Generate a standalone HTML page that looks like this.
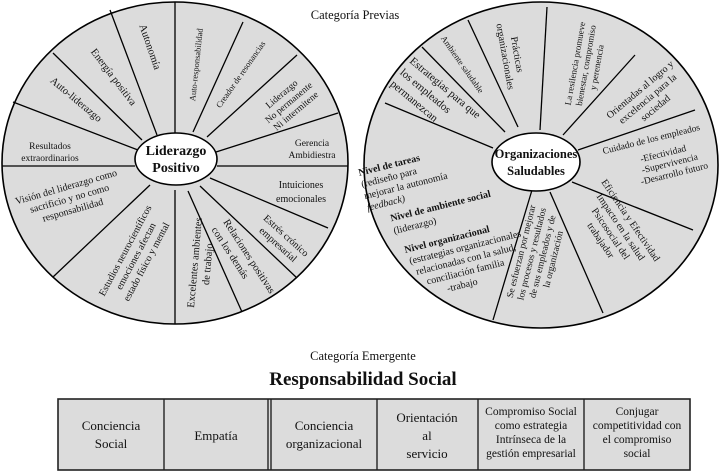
<!DOCTYPE html>
<html><head><meta charset="utf-8"><style>
html,body{margin:0;padding:0;background:#fff;}
svg{display:block;font-family:"Liberation Serif",serif;}
text{fill:#111;}
</style></head><body>
<svg width="727" height="476" viewBox="0 0 727 476" xmlns="http://www.w3.org/2000/svg">
<text x="355" y="19" font-size="12.5" text-anchor="middle">Categoría  Previas</text>
<!-- LEFT WHEEL -->
<ellipse cx="175" cy="163" rx="173" ry="161" fill="#dcdcdc" stroke="#000" stroke-width="1.6"/>
<g stroke="#000" stroke-width="1.3">
<line x1="175" y1="2" x2="175" y2="133"/>
<line x1="110" y1="10" x2="157" y2="135"/>
<line x1="53" y1="53" x2="142" y2="140"/>
<line x1="13" y1="102" x2="138" y2="150"/>
<line x1="2" y1="166" x2="135" y2="166"/>
<line x1="53" y1="277" x2="150" y2="185"/>
<line x1="175" y1="324" x2="175" y2="190"/>
<line x1="242" y1="312" x2="188" y2="191"/>
<line x1="297" y1="278" x2="200" y2="186"/>
<line x1="328" y1="228" x2="210" y2="178"/>
<line x1="217" y1="166" x2="348" y2="166"/>
<line x1="338" y1="113" x2="216" y2="152"/>
<line x1="297" y1="55" x2="207" y2="137"/>
<line x1="243" y1="22" x2="193" y2="132"/>
</g>
<ellipse cx="176" cy="159" rx="41" ry="26" fill="#fff" stroke="#000" stroke-width="1.6"/>
<text x="176" y="155" font-size="14" font-weight="bold" text-anchor="middle">Liderazgo</text>
<text x="176" y="172" font-size="14" font-weight="bold" text-anchor="middle">Positivo</text>
<g font-size="10.5" text-anchor="middle">
<text transform="translate(147,48) rotate(71)">Autonomía</text>
<text transform="translate(111,79) rotate(53)">Energía positiva</text>
<text transform="translate(74,102) rotate(40)">Auto-liderazgo</text>
<text x="50" y="149" font-size="9.5">Resultados</text>
<text x="50" y="161" font-size="9.5">extraordinarios</text>
<text transform="translate(199,65) rotate(-84)" font-size="8.5">Auto-responsabilidad</text>
<text transform="translate(243,76) rotate(-55)" font-size="8.5">Creador de resonancias</text>
<text transform="translate(290,104) rotate(-40)" font-size="9.5"><tspan x="0" dy="-10">Liderazgo</tspan><tspan x="0" dy="11">No permanente</tspan><tspan x="0" dy="11">Ni intermitene</tspan></text>
<text x="312" y="146" font-size="9.5">Gerencia</text>
<text x="312" y="158" font-size="9.5">Ambidiestra</text>
<text x="301" y="188" font-size="10">Intuiciones</text>
<text x="301" y="202" font-size="10">emocionales</text>
<text transform="translate(284,238) rotate(42)" font-size="10"><tspan x="0" dy="0">Estrés crónico</tspan><tspan x="0" dy="12">empresarial</tspan></text>
<text transform="translate(223,222) rotate(57)" font-size="10.5" text-anchor="start"><tspan x="0" dy="0">Relaciones positivas</tspan><tspan x="0" dy="14">con los demás</tspan></text>
<text transform="translate(194,308) rotate(-85)" font-size="10.5" text-anchor="start"><tspan x="0" dy="0">Excelentes ambientes</tspan><tspan x="24" dy="13">de trabajo</tspan></text>
<text transform="translate(128,252) rotate(-62)" font-size="10"><tspan x="0" dy="0">Estudios neurocientíficos</tspan><tspan x="0" dy="12">emociones afectan</tspan><tspan x="0" dy="12">estado físico y mental</tspan></text>
<text transform="translate(67,190) rotate(-16)" font-size="10"><tspan x="0" dy="0">Visión del liderazgo como</tspan><tspan x="0" dy="12">sacrificio y no como</tspan><tspan x="0" dy="12">responsabilidad</tspan></text>
</g>
<!-- RIGHT WHEEL -->
<ellipse cx="541" cy="165" rx="177" ry="163" fill="#dcdcdc" stroke="#000" stroke-width="1.6"/>
<g stroke="#000" stroke-width="1.3">
<line x1="468" y1="20" x2="518" y2="127"/>
<line x1="547" y1="7" x2="540" y2="130"/>
<line x1="422" y1="47" x2="505" y2="132"/>
<line x1="385" y1="103" x2="493" y2="148"/>
<line x1="635" y1="55" x2="563" y2="135"/>
<line x1="695" y1="110" x2="578" y2="150"/>
<line x1="693" y1="230" x2="572" y2="182"/>
<line x1="603" y1="313" x2="550" y2="192"/>
<line x1="493" y1="320" x2="532" y2="190"/>
</g>
<ellipse cx="536" cy="162" rx="44" ry="29" fill="#fff" stroke="#000" stroke-width="1.6"/>
<text x="536" y="158" font-size="12.5" font-weight="bold" text-anchor="middle">Organizaciones</text>
<text x="536" y="175" font-size="12.5" font-weight="bold" text-anchor="middle">Saludables</text>
<g font-size="10" text-anchor="middle">
<text transform="translate(409,62) rotate(40)" font-size="11" text-anchor="start"><tspan x="0" dy="0">Estrategias para que</tspan><tspan x="0" dy="15">los empleados</tspan><tspan x="0" dy="15">permanezcan</tspan></text>
<text transform="translate(460,66) rotate(55)" font-size="8.5">Ambiente saludable</text>
<text transform="translate(514,55) rotate(80)"><tspan x="0" dy="0">Prácticas</tspan><tspan x="0" dy="12">organizacionales</tspan></text>
<text transform="translate(578,64) rotate(-80)" font-size="9"><tspan x="0" dy="0">La resilencia promueve</tspan><tspan x="0" dy="11">bienestar, compromiso</tspan><tspan x="0" dy="11">y perenencia</tspan></text>
<text transform="translate(642,92) rotate(-40)"><tspan x="0" dy="0">Orientadas al logro y</tspan><tspan x="0" dy="12">excelencia para la</tspan><tspan x="0" dy="12">sociedad</tspan></text>
<text transform="translate(652,142) rotate(-14)" font-size="9.5"><tspan x="0" dy="0">Cuidado de los empleados</tspan><tspan x="8" dy="17">-Efectividad</tspan><tspan x="12" dy="11">-Supervivencia</tspan><tspan x="14" dy="11">-Desarrollo futuro</tspan></text>
<text transform="translate(628,222) rotate(56)"><tspan x="0" dy="0">Eficiencia y Efectividad</tspan><tspan x="0" dy="12">Impacto en la salud</tspan><tspan x="0" dy="12">Psicosocial del</tspan><tspan x="0" dy="12">trabajador</tspan></text>
<text transform="translate(524,252) rotate(-76)" font-size="9.5"><tspan x="0" dy="0">Se esfuerzan por mejorar</tspan><tspan x="0" dy="11">los procesos y resultados</tspan><tspan x="0" dy="11">de sus empleados y de</tspan><tspan x="0" dy="11">la organización</tspan></text>
</g>
<g font-size="10" transform="rotate(-14 430 220)">
<text x="372" y="160" font-weight="bold">Nivel de tareas</text>
<text x="372" y="172">(rediseño para</text>
<text x="372" y="184">mejorar la autonomía</text>
<text x="372" y="196" font-style="italic">feedback)</text>
<text x="392" y="212" font-weight="bold">Nivel de ambiente social</text>
<text x="392" y="225">(liderazgo)</text>
<text x="398" y="246" font-weight="bold">Nivel organizacional</text>
<text x="400" y="258">(estrategias organizacionales</text>
<text x="404" y="270">relacionadas con la salud,</text>
<text x="412" y="282">conciliación familia</text>
<text x="430" y="294">-trabajo</text>
</g>
<!-- BOTTOM -->
<text x="363" y="360" font-size="12.5" text-anchor="middle">Categoría  Emergente</text>
<text x="363" y="385" font-size="19" font-weight="bold" text-anchor="middle">Responsabilidad Social</text>
<rect x="58" y="399" width="632" height="71" fill="#dcdcdc" stroke="#222" stroke-width="1.6"/>
<g stroke="#222" stroke-width="1.4">
<line x1="164" y1="399" x2="164" y2="470"/>
<line x1="268" y1="399" x2="268" y2="470"/>
<line x1="271" y1="399" x2="271" y2="470"/>
<line x1="377" y1="399" x2="377" y2="470"/>
<line x1="478" y1="399" x2="478" y2="470"/>
<line x1="584" y1="399" x2="584" y2="470"/>
</g>
<g font-size="13" text-anchor="middle">
<text x="111" y="430">Conciencia</text><text x="111" y="448">Social</text>
<text x="216" y="440">Empatía</text>
<text x="324" y="430">Conciencia</text><text x="324" y="448">organizacional</text>
<text x="427" y="422">Orientación</text><text x="427" y="440">al</text><text x="427" y="458">servicio</text>
<text x="531" y="415" font-size="11.5">Compromiso Social</text><text x="531" y="429" font-size="11.5">como estrategia</text><text x="531" y="443" font-size="11.5">Intrínseca de la</text><text x="531" y="457" font-size="11.5">gestión empresarial</text>
<text x="637" y="415" font-size="11.5">Conjugar</text><text x="637" y="429" font-size="11.5">competitividad con</text><text x="637" y="443" font-size="11.5">el compromiso</text><text x="637" y="457" font-size="11.5">social</text>
</g>
</svg>
</body></html>
